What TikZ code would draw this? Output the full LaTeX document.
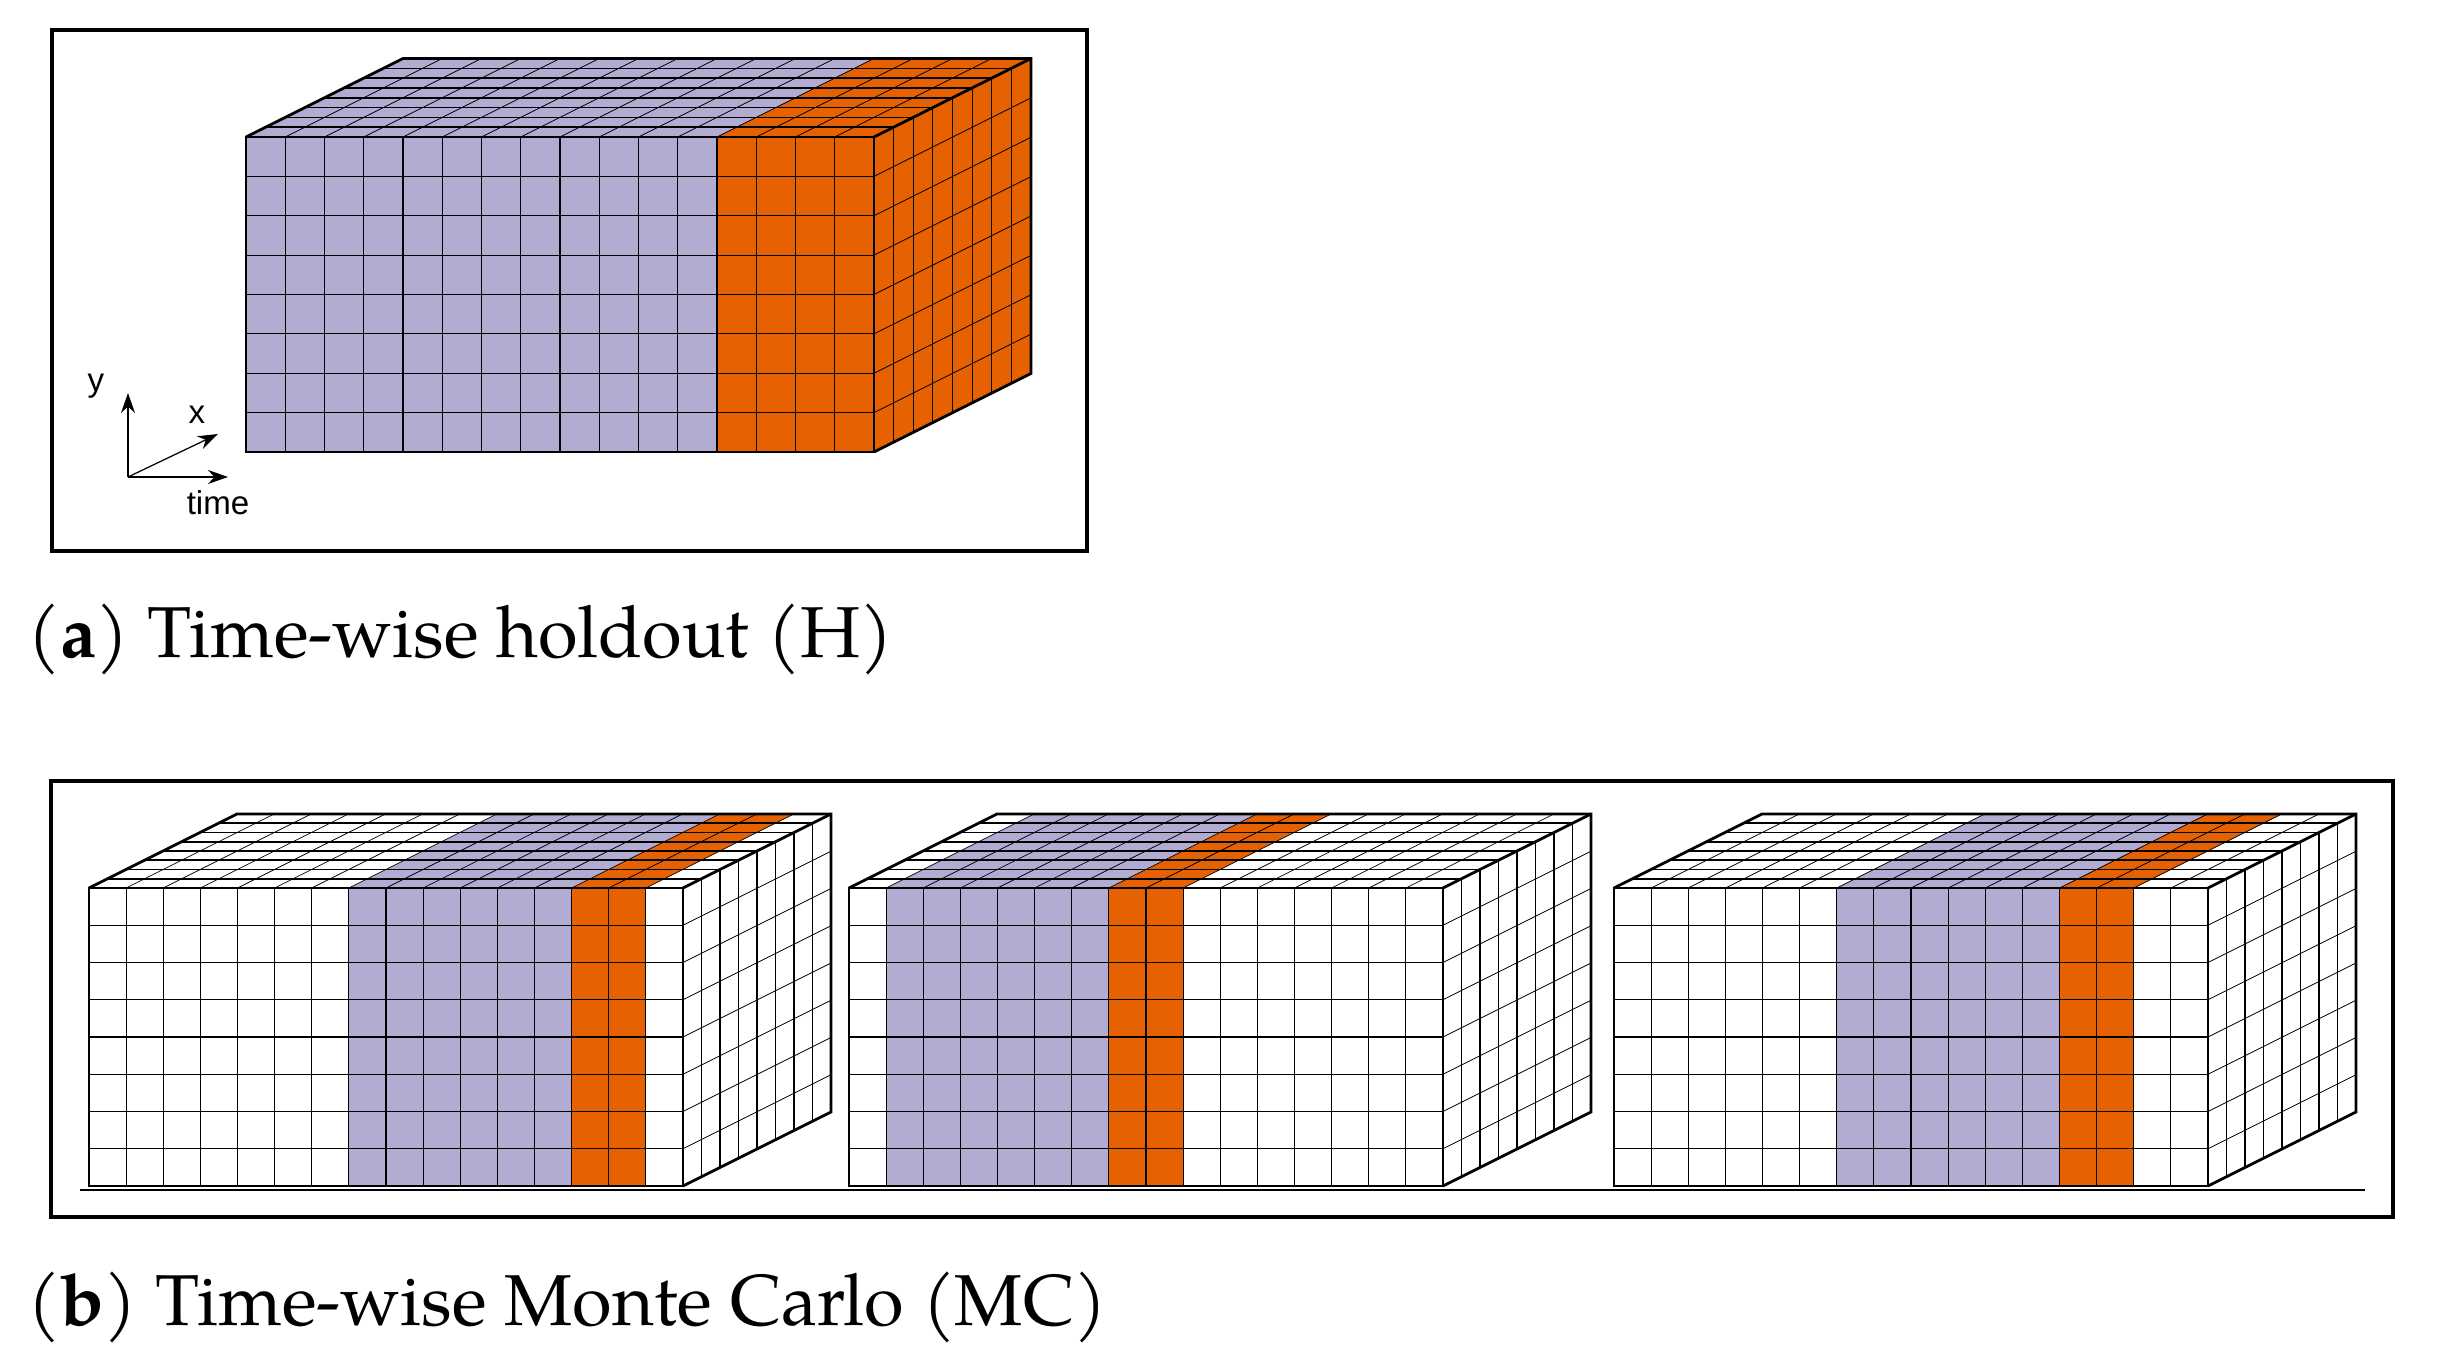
\documentclass[tikz,border=0pt]{standalone}
\usepackage{fontspec}
\setmainfont{TeX Gyre Pagella}
\newfontfamily\axfont{Liberation Sans}
\usetikzlibrary{arrows.meta}

\definecolor{lav}{HTML}{B2ABD2}
\definecolor{hold}{HTML}{E66101}

% #1,#2 front top-left corner, #3 width, #4 height, #5 depth,
% #6 first lavender column, #7 first orange column, #8 end of orange, #9 side colour
\newcommand{\gridcube}[9]{%
  \begin{scope}[shift={(#1,#2)}]
    \fill[lav] ({#6*#3/16},0) rectangle ({#7*#3/16},#4);
    \fill[hold] ({#7*#3/16},0) rectangle ({#8*#3/16},#4);
    \fill[lav] ({#6*#3/16},0) -- ({#7*#3/16},0) -- ++(#5,-#5/2) -- ({#6*#3/16+#5},-#5/2) -- cycle;
    \fill[hold] ({#7*#3/16},0) -- ({#8*#3/16},0) -- ++(#5,-#5/2) -- ({#7*#3/16+#5},-#5/2) -- cycle;
    \fill[#9] (#3,0) -- ++(#5,-#5/2) -- ++(0,#4) -- (#3,#4) -- cycle;
    \foreach \i in {1,...,15} {
      \draw[cellline] ({\i*#3/16},0) -- ({\i*#3/16},#4);
      \draw[diagline] ({\i*#3/16},0) -- ++(#5,-#5/2);
    }
    \foreach \k in {1,...,7} {
      \draw[cellline] (0,{\k*#4/8}) -- (#3,{\k*#4/8});
      \draw[diagline] (#3,{\k*#4/8}) -- ++(#5,-#5/2);
      \draw[topline] ({\k*#5/8},{-\k*#5/16}) -- ++(#3,0);
      \draw[cellline] ({#3+\k*#5/8},{-\k*#5/16}) -- ++(0,#4);
    }
    \draw[cubeline] (0,0) rectangle (#3,#4);
    \draw[cubeline] (0,0) -- ++(#5,-#5/2) -- ++(#3,0) -- ++(0,#4) -- (#3,#4);
    \draw[cubeline] (#3,0) -- ++(#5,-#5/2);
  \end{scope}}

\begin{document}
\begin{tikzpicture}[x=0.01cm, y=-0.01cm,
  cubeline/.style = {line width=0.8pt, line join=miter},
  cellline/.style = {line width=0.32pt},
  topline/.style = {line width=0.45pt},
  diagline/.style = {line width=0.22pt},
  panel/.style = {line width=1.3pt},
  axis/.style = {line width=0.35pt, -{Stealth[length=2mm, width=1.4mm]}},
  axlabel/.style = {font=\axfont\fontsize{9.4}{11}\selectfont, inner sep=0pt},
  caption/.style = {font=\fontsize{20.5}{24}\selectfont, inner sep=0pt}]

  \useasboundingbox (0,0) rectangle (2444,1370);

  % (a)
  \draw[panel] (52,30) rectangle (1087,551);
  \gridcube{246}{137}{628}{315}{157}{0}{12}{16}{hold}

  \coordinate (orig) at (128,477);
  \coordinate (ytip) at (128,393);
  \coordinate (xtip) at (218,434);
  \coordinate (ttip) at (228,477);
  \draw[axis] (orig) -- (ytip);
  \draw[axis] (orig) -- (xtip);
  \draw[axis] (orig) -- (ttip);
  \node[axlabel, anchor=base] (ylab) at (96,392) {y};
  \node[axlabel, anchor=base] (xlab) at (197,424) {x};
  \node[axlabel, anchor=base] (tlab) at (218,515) {time};

  \node[caption, anchor=base west] (capA) at (27,658) {(\textbf{a}) Time-wise holdout (H)};

  % (b)
  \draw[panel] (51,781) rectangle (2393,1217);
  \draw[cellline] (80,1190) -- (2365,1190);
  \gridcube{89}{888}{594}{298}{148}{7}{13}{15}{white}
  \gridcube{849}{888}{594}{298}{148}{1}{7}{9}{white}
  \gridcube{1614}{888}{594}{298}{148}{6}{12}{14}{white}

  \node[caption, anchor=base west] (capB) at (27,1325) {(\textbf{b}) Time-wise Monte Carlo (MC)};
\end{tikzpicture}
\end{document}
